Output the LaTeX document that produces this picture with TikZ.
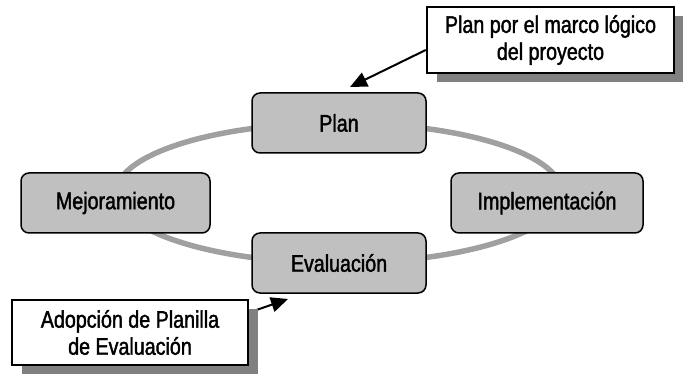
\documentclass[tikz,border=0pt]{standalone}
\usepackage{fontspec}
\setmainfont[FakeStretch=0.82,FakeBold=1.6]{Liberation Sans}
\usetikzlibrary{shadows,arrows.meta,backgrounds}
\definecolor{caja}{HTML}{C0C0C0}
\definecolor{anillo}{HTML}{A0A0A0}
\definecolor{sombra}{HTML}{808080}
\begin{document}
\begin{tikzpicture}[x=1pt,y=-1pt,>={Triangle[length=17pt,width=15pt]},
    font=\fontsize{24}{27}\selectfont,
    etapa/.style={draw,line width=1.5pt,fill=caja,rounded corners=8pt,
      minimum width=#1,minimum height=60pt,inner sep=0pt},
    nota/.style={draw,line width=2.5pt,fill=white,align=center,inner sep=0pt,
      drop shadow={shadow xshift=10pt,shadow yshift=-9pt,fill=sombra,opacity=1}}]
    \useasboundingbox(0,0)rectangle(683,374);
    \draw[anillo,line width=5.5pt](339,193)ellipse[x radius=223,y radius=70];
    \node[etapa=174pt](plan)at(339,123){Plan};
    \node[etapa=174pt](evalua)at(339,263){Evaluación};
    \node[etapa=189pt](mejora)at(115.5,203){Mejoramiento};
    \node[etapa=192pt](implem)at(547,203){Implementación};
    \node[nota,minimum width=247pt,minimum height=66pt](callP)at(550.5,40){Plan por el marco lógico\\del proyecto};
    \node[nota,minimum width=236pt,minimum height=65pt](callE)at(130,332.5){Adopción de Planilla\\de Evaluación};
    \coordinate(tipP)at(350,87);
    \coordinate(tipE)at(288,299);
    \begin{scope}[on background layer]
        \draw[->,line width=2pt]([yshift=-10pt]callP.west)--(tipP);
        \draw[->,line width=2pt]([yshift=20pt]callE.east)--(tipE);
    \end{scope}
\end{tikzpicture}
\end{document}
